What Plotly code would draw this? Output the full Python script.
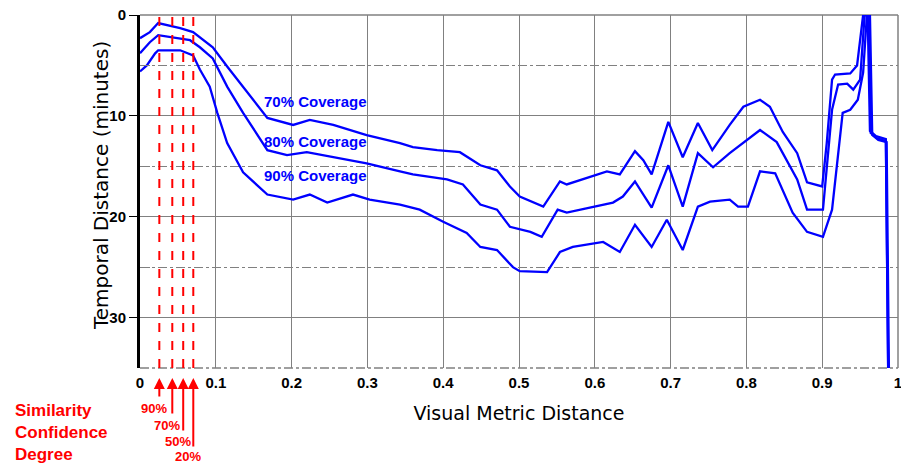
import plotly.graph_objects as go

# ---- data ----
x70 = [0, 0.013, 0.024, 0.036, 0.053, 0.070, 0.079, 0.096, 0.115, 0.136, 0.168, 0.202, 0.224, 0.255,
       0.299, 0.343, 0.360, 0.392, 0.422, 0.449, 0.471, 0.488, 0.501, 0.532, 0.554, 0.563, 0.616, 0.633,
       0.653, 0.664, 0.675, 0.697, 0.716, 0.736, 0.755, 0.778, 0.796, 0.818, 0.831, 0.848, 0.867, 0.880,
       0.900, 0.906, 0.913, 0.917, 0.937, 0.946, 0.954, 0.960, 0.963, 0.971, 0.984, 0.987]
y70 = [2.3, 1.7, 0.8, 1.0, 1.3, 1.7, 2.2, 3.2, 5.1, 7.1, 10.2, 10.9, 10.4, 10.9,
       11.9, 12.7, 13.1, 13.4, 13.6, 14.9, 15.4, 17.0, 18.0, 19.0, 16.5, 16.8, 15.5, 15.8,
       13.5, 14.4, 15.8, 10.6, 14.1, 10.7, 13.4, 10.9, 9.1, 8.4, 9.1, 11.6, 13.7, 16.6,
       17.0, 12.7, 6.4, 5.9, 5.8, 5.0, 0.0, 0.0, 11.5, 12.0, 12.3, 35.0]

x80 = [0, 0.013, 0.024, 0.040, 0.066, 0.079, 0.096, 0.115, 0.136, 0.168, 0.194, 0.220, 0.255, 0.299,
       0.343, 0.360, 0.405, 0.426, 0.449, 0.471, 0.488, 0.515, 0.530, 0.551, 0.563, 0.598, 0.624, 0.637,
       0.653, 0.675, 0.697, 0.716, 0.736, 0.756, 0.778, 0.818, 0.840, 0.867, 0.880, 0.901, 0.913, 0.921,
       0.933, 0.941, 0.950, 0.956, 0.962, 0.964, 0.972, 0.984, 0.987]
y80 = [3.8, 2.7, 2.0, 2.2, 2.5, 3.2, 4.3, 7.1, 9.7, 13.4, 13.9, 13.6, 14.1, 14.7,
       15.5, 15.8, 16.3, 16.8, 18.8, 19.3, 21.0, 21.5, 22.0, 19.3, 19.6, 19.0, 18.6, 18.0,
       16.5, 19.1, 14.9, 19.0, 13.7, 15.1, 13.7, 11.4, 12.6, 16.3, 19.3, 19.3, 9.4, 6.9,
       6.8, 7.4, 6.4, 0.0, 0.0, 11.7, 12.2, 12.5, 35.0]

x90 = [0, 0.009, 0.020, 0.024, 0.053, 0.070, 0.079, 0.092, 0.102, 0.115, 0.136, 0.168, 0.202, 0.224,
       0.247, 0.281, 0.303, 0.343, 0.369, 0.400, 0.431, 0.449, 0.471, 0.492, 0.501, 0.537, 0.554, 0.571,
       0.611, 0.633, 0.653, 0.675, 0.695, 0.716, 0.736, 0.752, 0.778, 0.789, 0.802, 0.818, 0.838, 0.861,
       0.880, 0.901, 0.913, 0.923, 0.927, 0.937, 0.947, 0.954, 0.959, 0.963, 0.966, 0.974, 0.985, 0.988]
y90 = [5.6, 5.0, 3.8, 3.5, 3.5, 4.0, 5.4, 7.1, 9.7, 12.7, 15.6, 17.8, 18.3, 17.8,
       18.6, 17.8, 18.3, 18.8, 19.3, 20.5, 21.6, 23.0, 23.3, 25.0, 25.4, 25.5, 23.5, 23.0,
       22.5, 23.5, 20.8, 23.0, 20.3, 23.3, 19.0, 18.5, 18.3, 19.0, 19.0, 15.5, 15.7, 19.6,
       21.5, 22.0, 19.3, 12.4, 9.7, 9.4, 8.4, 5.7, 0.0, 0.0, 11.9, 12.4, 12.6, 35.0]

coverage_labels = ["70% Coverage", "80% Coverage", "90% Coverage"]
coverage_label_x = [0.161, 0.161, 0.161]
coverage_label_y = [8.6, 12.5, 15.9]

confidence_x = [0.0255, 0.0426, 0.057, 0.0703]
confidence_labels = ["90%", "70%", "50%", "20%"]

x_ticks = [0, 0.1, 0.2, 0.3, 0.4, 0.5, 0.6, 0.7, 0.8, 0.9, 1]
x_tick_text = ["0", "0.1", "0.2", "0.3", "0.4", "0.5", "0.6", "0.7", "0.8", "0.9", "1"]
y_ticks = [0, 10, 20, 30]
y_minor_ticks = [5, 15, 25]
y_range = [0, 35]

BLUE = "#0000FF"
RED = "#FF0000"
GRID = "#808080"

fig = go.Figure()
for xs, ys in [(x70, y70), (x80, y80), (x90, y90)]:
    fig.add_trace(go.Scatter(x=xs, y=ys, mode="lines",
                             line=dict(color=BLUE, width=2.3), showlegend=False,
                             hoverinfo="skip"))

for v in confidence_x:
    fig.add_vline(x=v, line=dict(color=RED, width=2, dash="dash"), layer="above")

# plot frame: top & right solid grid-colour, bottom dash-dot
fig.add_shape(type="line", xref="paper", yref="paper", x0=0, x1=1, y0=1, y1=1,
              line=dict(color=GRID, width=1.5), layer="below")
fig.add_shape(type="line", xref="paper", yref="paper", x0=1, x1=1, y0=0, y1=1,
              line=dict(color=GRID, width=1.5), layer="below")
fig.add_shape(type="line", xref="paper", yref="paper", x0=0, x1=1, y0=0, y1=0,
              line=dict(color=GRID, width=1.5, dash="dashdot"), layer="below")

# coverage labels
for t, lx, ly in zip(coverage_labels, coverage_label_x, coverage_label_y):
    fig.add_annotation(x=lx, y=ly, text=t, showarrow=False, xanchor="left", yanchor="middle",
                       font=dict(family="Liberation Sans, Arial", size=15, color=BLUE, weight="bold"))

# arrows + confidence labels
shaft = [20, 37, 54, 70]
label_y = [-0.116, -0.164, -0.2096, -0.252]
for v, t, s, ly in zip(confidence_x, confidence_labels, shaft, label_y):
    fig.add_annotation(x=v, xref="x", y=-0.0283, yref="paper", text="", showarrow=True,
                       ax=0, ay=s, arrowhead=2, arrowsize=1.1, arrowwidth=2, arrowcolor=RED)
    fig.add_annotation(x=v, xref="x", y=ly, yref="paper", text=t, showarrow=False,
                       xshift=-5, xanchor="center", yanchor="middle",
                       font=dict(family="Liberation Sans, Arial", size=13, color=RED, weight="bold"))

fig.add_annotation(x=-0.1675, xref="paper", y=-0.088, yref="paper",
                   text="Similarity<br>Confidence<br>Degree", showarrow=False,
                   xanchor="left", yanchor="top", align="left",
                   font=dict(family="Liberation Sans, Arial", size=17, color=RED, weight="bold"))

# y-axis title as rotated text
fig.add_annotation(x=-0.0515, xref="paper", y=0.518, yref="paper",
                   text="Temporal Distance (minutes)", showarrow=False, textangle=-90,
                   xanchor="center", yanchor="middle",
                   font=dict(family="DejaVu Sans", size=20, color="black"))

fig.update_layout(
    width=901, height=467,
    margin=dict(l=140, r=3, t=15, b=99, autoexpand=False),
    paper_bgcolor="white", plot_bgcolor="white",
    font=dict(family="Liberation Sans, Arial", color="black"),
    xaxis=dict(range=[0, 1], tickmode="array", tickvals=x_ticks, ticktext=x_tick_text,
               automargin=False,
               showgrid=True, gridcolor=GRID, gridwidth=1, zeroline=False, showline=False,
               ticks="", ticklabelstandoff=4, ticklabeloverflow="allow",
               tickfont=dict(family="Liberation Sans, Arial", size=15, weight="bold"),
               title=dict(text="Visual Metric Distance", standoff=16,
                          font=dict(family="DejaVu Sans", size=19))),
    yaxis=dict(range=y_range[::-1], tickmode="array", tickvals=y_ticks, automargin=False,
               showgrid=True, gridcolor=GRID, gridwidth=1, zeroline=False,
               showline=True, linecolor="black", linewidth=3,
               ticks="outside", ticklen=8, tickcolor="black", tickwidth=1,
               tickfont=dict(family="Liberation Sans, Arial", size=15, weight="bold"),
               minor=dict(tickmode="array", tickvals=y_minor_ticks, ticks="inside", ticklen=10,
                          tickcolor=GRID, showgrid=True, gridcolor=GRID, griddash="dashdot",
                          gridwidth=1)),
)

fig.write_html("out.html")
